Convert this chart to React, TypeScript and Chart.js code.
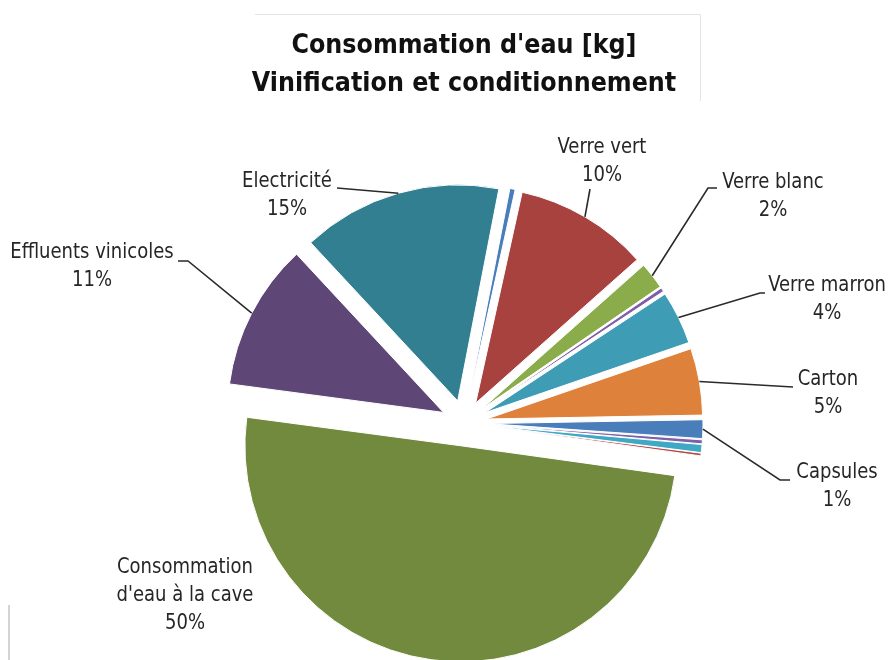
import React, { useEffect, useRef } from 'react';
import { Chart, registerables } from 'chart.js';
Chart.register(...registerables);

// ---- data (clockwise order from the top) ----
const CATEGORIES = [
  'Autre (a)', 'Verre vert', 'Verre blanc', 'Autre (b)', 'Verre marron', 'Carton',
  'Capsules', 'Autre (c)', 'Autre (d)', 'Autre (e)', "Consommation d'eau à la cave",
  'Effluents vinicoles', 'Electricité',
];
const VALUES = [0.4, 10, 2, 0.3, 4, 5, 1.4, 0.3, 0.6, 0.2, 50, 11, 15];
const PERCENT_TEXT = ['', '10%', '2%', '', '4%', '5%', '1%', '', '', '', '50%', '11%', '15%'];
const LABEL_NAMES = [
  [], ['Verre vert'], ['Verre blanc'], [], ['Verre marron'], ['Carton'], ['Capsules'],
  [], [], [], ['Consommation', "d'eau à la cave"], ['Effluents vinicoles'], ['Electricité'],
];
const TITLE_LINES = ["Consommation d'eau [kg]", 'Vinification et conditionnement'];

// ---- style ----
const COLORS = [
  '#4A7EBB', '#A8423F', '#8BAC4B', '#7F5FA9', '#3F9CB5', '#DE823B',
  '#4A7EBB', '#7F5FA9', '#3FA9C5', '#B04A47', '#718A3E', '#5E4677', '#327F92',
];
const FONT = "'Liberation Sans Narrow', 'Arial Narrow', 'DejaVu Sans Condensed', sans-serif";
const EXPLODE = 23;
const RADIUS = 216;
const LABEL_FONT_SIZE = 22;
const LABEL_LINE_H = 28;
const LABEL_SCALE_X = 0.91;
// label layout: text centre x, first line y, leader path after slice edge
const LABEL_LAYOUT: Record<number, { tx: number; ty: number; path: number[][] }> = {
  1: { tx: 602, ty: 147, path: [[590, 189]] },
  2: { tx: 773, ty: 182, path: [[708, 188], [717, 188]] },
  4: { tx: 827, ty: 285, path: [[760, 293], [765, 293]] },
  5: { tx: 828, ty: 379, path: [[793, 387]] },
  6: { tx: 837, ty: 472, path: [[780, 480], [790, 480]] },
  10: { tx: 185, ty: 567, path: [] },
  11: { tx: 92, ty: 252, path: [[188, 261], [178, 261]] },
  12: { tx: 287, ty: 181, path: [[337, 188]] },
};

const explodePlugin = {
  id: 'explode',
  beforeDatasetDraw(chart: any, args: any) {
    const ctx = chart.ctx;
    args.meta.data.forEach((arc: any) => {
      const { startAngle, endAngle } = arc.getProps(['startAngle', 'endAngle']);
      const mid = (startAngle + endAngle) / 2;
      ctx.save();
      ctx.translate(Math.cos(mid) * EXPLODE, Math.sin(mid) * EXPLODE);
      arc.draw(ctx);
      ctx.restore();
    });
    return false;
  },
};

const labelPlugin = {
  id: 'calloutLabels',
  afterDatasetsDraw(chart: any) {
    const ctx = chart.ctx;
    const meta = chart.getDatasetMeta(0);
    meta.data.forEach((arc: any, i: number) => {
      const lay = LABEL_LAYOUT[i];
      if (!lay) return;
      const { x, y, startAngle, endAngle, outerRadius } = arc.getProps(['x', 'y', 'startAngle', 'endAngle', 'outerRadius']);
      const mid = (startAngle + endAngle) / 2;
      const ex = x + Math.cos(mid) * (EXPLODE + outerRadius);
      const ey = y + Math.sin(mid) * (EXPLODE + outerRadius);
      ctx.save();
      if (lay.path.length) {
        ctx.strokeStyle = '#2a2a2a';
        ctx.lineWidth = 1.6;
        ctx.beginPath();
        ctx.moveTo(ex, ey);
        lay.path.forEach((p) => ctx.lineTo(p[0], p[1]));
        ctx.stroke();
      }
      ctx.fillStyle = '#262626';
      ctx.font = `${LABEL_FONT_SIZE}px ${FONT}`;
      ctx.textAlign = 'center';
      ctx.textBaseline = 'middle';
      const lines = [...LABEL_NAMES[i], PERCENT_TEXT[i]];
      lines.forEach((t, k) => {
        ctx.save();
        ctx.translate(lay.tx, lay.ty + k * LABEL_LINE_H);
        ctx.scale(LABEL_SCALE_X, 1);
        ctx.fillText(t, 0, 0);
        ctx.restore();
      });
      ctx.restore();
    });
  },
};

export default function App() {
  const ref = useRef<HTMLCanvasElement>(null);
  useEffect(() => {
    if (!ref.current) return;
    const chart = new Chart(ref.current, {
      type: 'pie',
      data: {
        labels: CATEGORIES,
        datasets: [
          {
            data: VALUES,
            backgroundColor: COLORS,
            borderColor: '#ffffff',
            borderWidth: 1,
            radius: RADIUS,
          } as any,
        ],
      },
      options: {
        responsive: false,
        animation: false,
        rotation: 11,
        layout: { padding: { left: 39, right: 0, top: 27, bottom: 0 } },
        plugins: {
          legend: { display: false },
          tooltip: { enabled: false },
          title: {
            display: true,
            text: TITLE_LINES,
            color: '#111',
            padding: { top: 0, bottom: 0 },
            font: { family: FONT, size: 26.5, weight: 'bold', lineHeight: 38 / 26.5 },
          },
        },
      } as any,
      plugins: [explodePlugin, labelPlugin],
    });
    return () => chart.destroy();
  }, []);
  return (
    <div style={{ position: 'fixed', left: 0, top: 0, width: 889, height: 660, overflow: 'hidden', background: '#fff' }}>
      <div style={{ position: 'absolute', left: 255, top: 14, width: 445, height: 86, borderTop: '1px solid #e4e4e4', borderRight: '1px solid #e4e4e4' }} />
      <div style={{ position: 'absolute', left: 8, top: 605, width: 0, height: 55, borderLeft: '2px solid #d4d4d4' }} />
      <canvas ref={ref} width={889} height={743} style={{ position: 'absolute', left: 0, top: 0, width: 889, height: 743 }} />
    </div>
  );
}
